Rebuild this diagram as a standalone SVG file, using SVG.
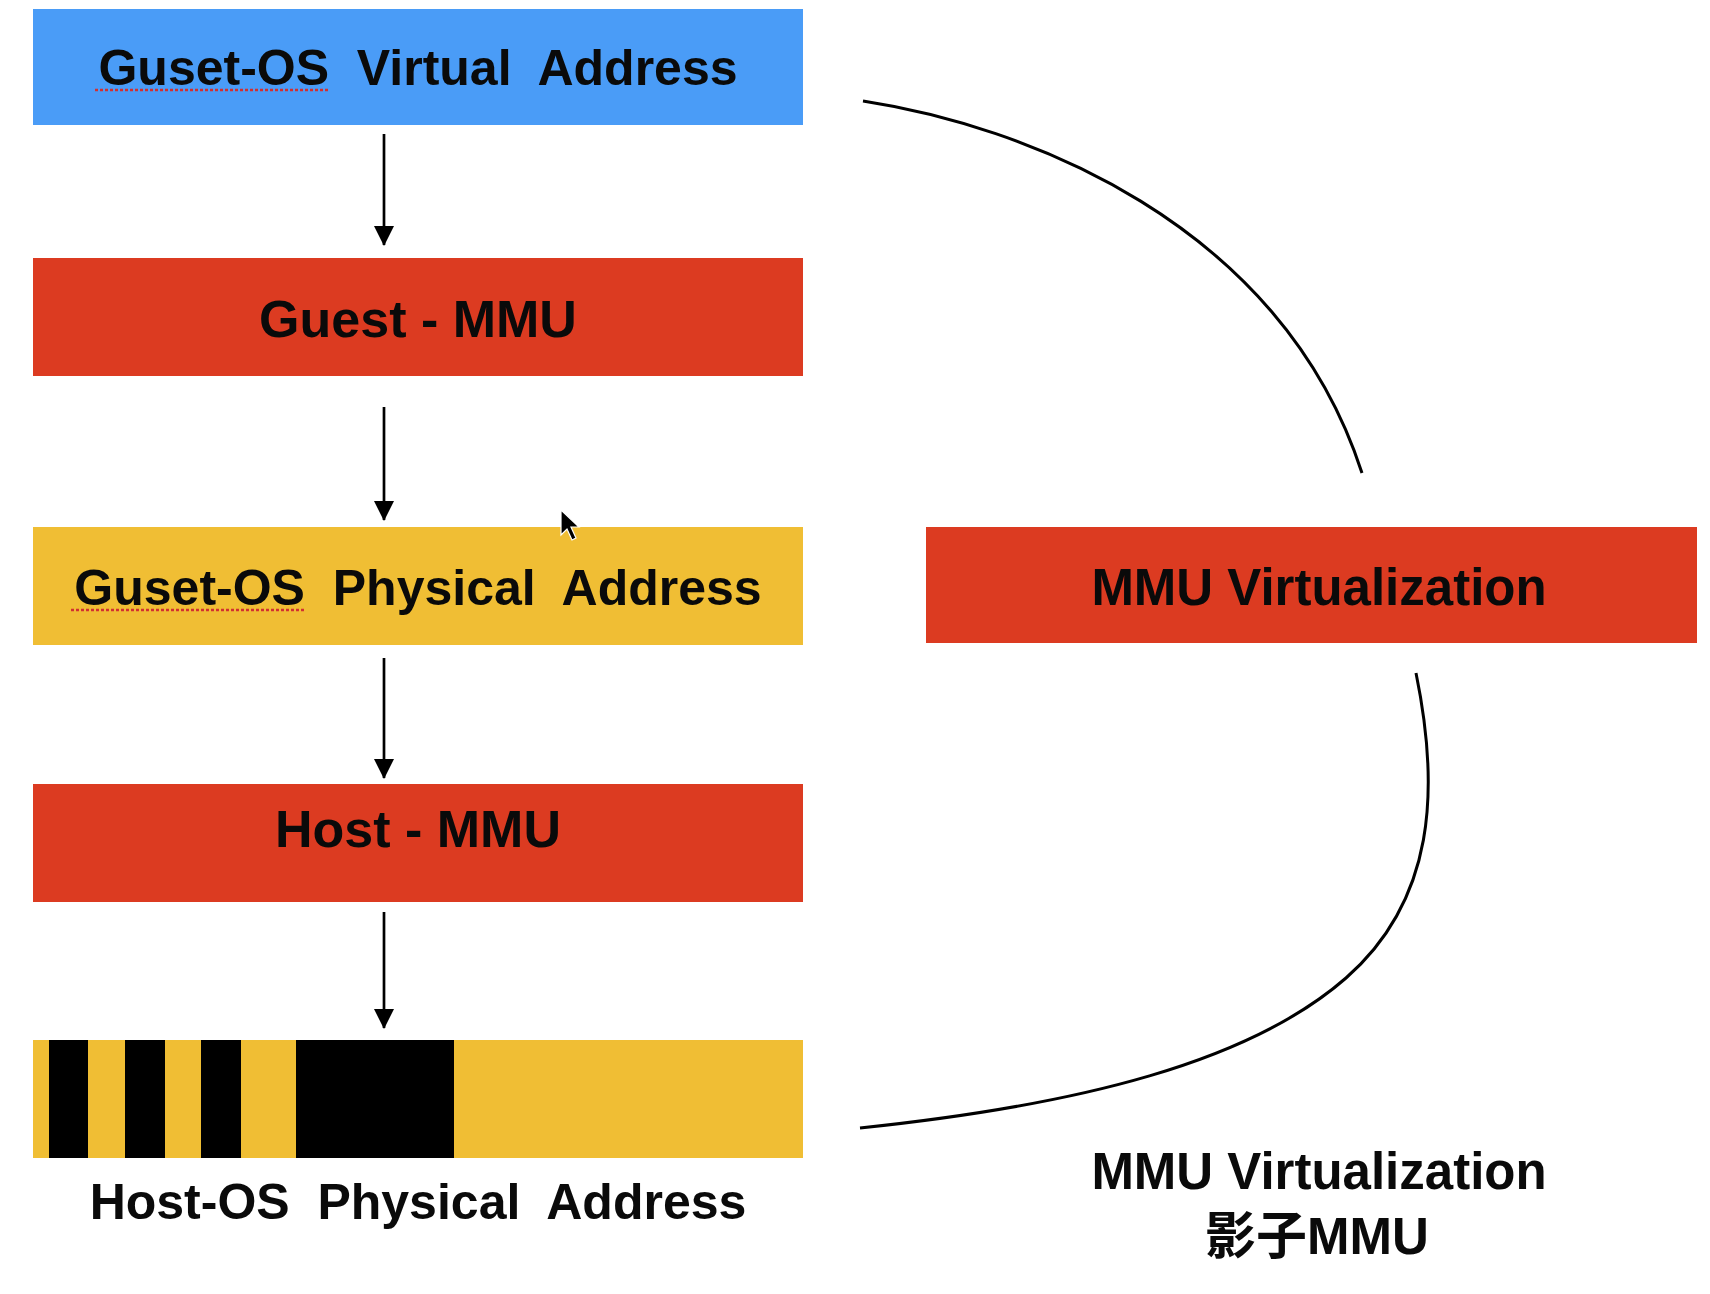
<svg xmlns="http://www.w3.org/2000/svg" width="1710" height="1294" viewBox="0 0 1710 1294">
<defs>
<style>
.lbl{font-family:"Liberation Sans",Arial,sans-serif;font-weight:bold;fill:#0a0a0a;text-anchor:middle}
.cjk{font-family:"Liberation Sans","Noto Sans CJK SC",sans-serif;font-weight:bold;fill:#0a0a0a;text-anchor:middle}
.red{fill:#DC3B21}
.yel{fill:#F0BE34}
.blu{fill:#4A9CF7}
.conn{fill:none;stroke:#000;stroke-width:2.7}
.curve{fill:none;stroke:#000;stroke-width:3}
.squig{fill:none;stroke:#d23030;stroke-width:2.5;stroke-dasharray:3 2}
</style>
<marker id="ah" viewBox="0 0 20 20" refX="19" refY="10" markerWidth="20" markerHeight="20" markerUnits="userSpaceOnUse" orient="auto">
<path d="M0,0 L20,10 L0,20 Z" fill="#000"/>
</marker>
</defs>
<rect width="1710" height="1294" fill="#fff"/>

<g id="guest-va">
<rect class="blu" x="33" y="9" width="770" height="116"/>
<text class="lbl" x="418" y="85" font-size="50" xml:space="preserve">Guset-OS  Virtual  Address</text>
<line class="squig" x1="95" y1="90" x2="328" y2="90"/>
</g>

<g id="guest-mmu">
<rect class="red" x="33" y="258" width="770" height="118"/>
<text class="lbl" x="418" y="337" font-size="52" xml:space="preserve">Guest - MMU</text>
</g>

<g id="guest-pa">
<rect class="yel" x="33" y="527" width="770" height="118"/>
<text class="lbl" x="418" y="605" font-size="50" xml:space="preserve">Guset-OS  Physical  Address</text>
<line class="squig" x1="71" y1="610" x2="305" y2="610"/>
</g>

<g id="host-mmu">
<rect class="red" x="33" y="784" width="770" height="118"/>
<text class="lbl" x="418" y="847" font-size="52" xml:space="preserve">Host - MMU</text>
</g>

<g id="host-pa">
<rect class="yel" x="33" y="1040" width="770" height="118"/>
<rect x="49" y="1040" width="39" height="118" fill="#000"/>
<rect x="125" y="1040" width="40" height="118" fill="#000"/>
<rect x="201" y="1040" width="40" height="118" fill="#000"/>
<rect x="296" y="1040" width="158" height="118" fill="#000"/>
<text class="lbl" x="418" y="1219" font-size="50" xml:space="preserve">Host-OS  Physical  Address</text>
</g>

<g id="mmu-virt">
<rect class="red" x="926" y="527" width="771" height="116"/>
<text class="lbl" x="1319" y="605" font-size="51">MMU Virtualization</text>
</g>

<g id="shadow-label">
<text class="lbl" x="1319" y="1189" font-size="51">MMU Virtualization</text>
<text class="cjk" x="1317" y="1254" font-size="51">影子MMU</text>
</g>

<g id="connectors">
<line class="conn" x1="384" y1="134" x2="384" y2="245" marker-end="url(#ah)"/>
<line class="conn" x1="384" y1="407" x2="384" y2="520" marker-end="url(#ah)"/>
<line class="conn" x1="384" y1="658" x2="384" y2="778" marker-end="url(#ah)"/>
<line class="conn" x1="384" y1="912" x2="384" y2="1028" marker-end="url(#ah)"/>
<path class="curve" d="M863,101 C1020,125 1280,220 1362,473"/>
<path class="curve" d="M1416,673 C1440,790 1435,900 1346,978 C1250,1062 1080,1105 860,1128"/>
</g>

<g id="cursor">
<path d="M561,510 L561,535 L567,529 L572,540 L576,538 L571,527 L579,527 Z" fill="#000" stroke="#fff" stroke-width="1.2"/>
</g>
</svg>
